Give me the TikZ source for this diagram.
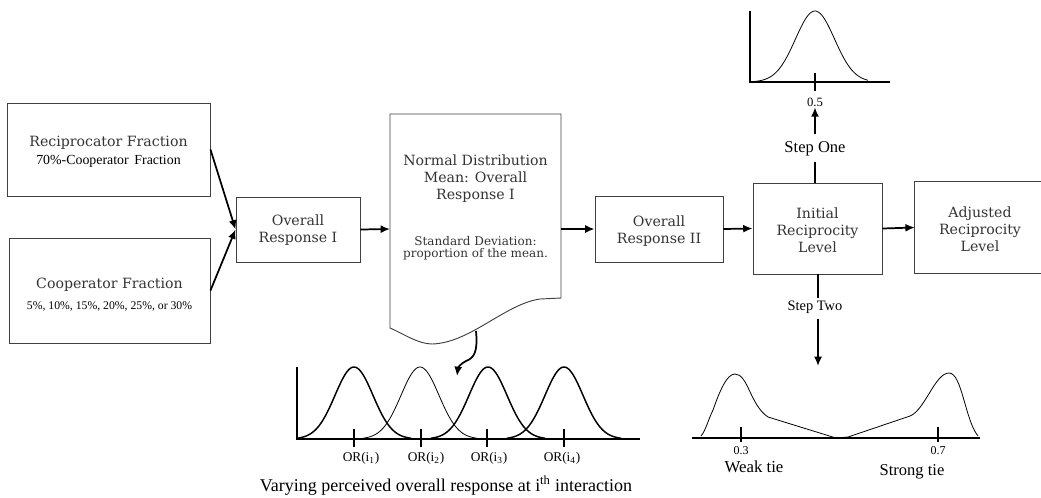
\documentclass[tikz,border=0pt]{standalone}
\usepackage{fontspec}
\newfontfamily\boxfont{DejaVu Serif}
\newfontfamily\labfont{Liberation Serif}
\usetikzlibrary{arrows.meta}
\begin{document}
\begin{tikzpicture}[x=0.75pt,y=-0.75pt,
  box/.style={draw=black!75, line width=0.7pt, inner sep=0pt},
  btxt/.style={font=\boxfont\fontsize{10.6}{12.75}\selectfont, text=black!80, align=center, inner sep=0pt},
  stxt/.style={font=\boxfont\fontsize{9}{9.2}\selectfont, text=black!80, align=center, inner sep=0pt},
  ptxt/.style={font=\labfont\fontsize{#1}{#1}\selectfont, inner sep=0pt},
  arr/.style={line width=1.3pt, -{Latex[length=7pt,width=6pt]}},
  seg/.style={line width=1.3pt},
  thin curve/.style={line width=0.6pt},
  thick curve/.style={line width=1.1pt},
  axis/.style={line width=0.8pt}
]
\useasboundingbox (0,0) rectangle (1041,497);
\clip (0,0) rectangle (1041,497);

% ---- boxes ----
\node[box, minimum width=152.25pt, minimum height=69.75pt] (recip) at (108.5,149.5) {};
\node[btxt] (recipT) at (108.5,143) {Reciprocator Fraction};
\node[ptxt=10.4] (recipS) at (108.5,161) {70\%-Cooperator\, Fraction};

\node[box, minimum width=150.75pt, minimum height=78.75pt] (coop) at (109.5,290.5) {};
\node[btxt] (coopT) at (109.5,285) {Cooperator Fraction};
\node[ptxt=8.8] (coopS) at (109.5,306) {5\%, 10\%, 15\%, 20\%, 25\%, or 30\%};

\node[box, minimum width=93pt, minimum height=48.75pt] (or1) at (298,229.5) {};
\node[btxt] (or1T) at (298,230.5) {Overall\\Response I};

% document shape
\draw[box] (390,114) -- (561,114) -- (561,298) -- (540,299)
  .. controls (505,304) and (470,343) .. (432,344)
  .. controls (418,344) and (402,333) .. (390,328) -- cycle;
\coordinate (docin) at (390,229);
\coordinate (docout) at (561,229);
\coordinate (docbot) at (476,331);
\node[btxt] (docT) at (475.5,179) {Normal Distribution\\Mean: Overall\\Response I};
\node[stxt] (docS) at (475.5,248) {Standard Deviation:\\proportion of the mean.};

\node[box, minimum width=96pt, minimum height=49.5pt] (or2) at (659,229) {};
\node[btxt] (or2T) at (659,231) {Overall\\Response II};

\node[box, minimum width=96.75pt, minimum height=68.25pt] (irl) at (817.5,228.5) {};
\node[btxt] (irlT) at (817.5,230) {Initial\\Reciprocity\\Level};

\node[inner sep=0pt, minimum width=94.5pt, minimum height=68.25pt] (adj) at (978,227.5) {};
\draw[box] (adj.north east) -- (adj.north west) -- (adj.south west) -- (adj.south east);
\node[btxt] (adjT) at (980,229.5) {Adjusted\\Reciprocity\\Level};

% ---- connectors ----
\draw[arr] (recip.east) -- (or1.west);
\draw[arr] (coop.east) -- (or1.west);
\draw[arr] (or1.east) -- (docin);
\draw[arr] (docout) -- (or2.west);
\draw[arr] (or2.east) -- (irl.west);
\draw[arr] (irl.east) -- (adj.west);

% ---- step one ----
\node[ptxt=12.4] (stepone) at (815,149) {Step One};
\node[ptxt=9.5] (half) at (815,102) {0.5};
\draw[seg] (irl.north -| stepone) -- ([yshift=-4pt]stepone.south);
\draw[arr] ([yshift=6pt]stepone.north) -- ([yshift=2pt]half.north |- 0,110);

% top chart
\draw[axis] (750,11) -- (750,82) -- (890,82);
\draw[axis] (815,73) -- (815,91);
\draw[thin curve] plot[domain=755:868, samples=80, smooth] (\x,{82-71*exp(-0.5*((\x-815)/19.5)*((\x-815)/19.5))});

% ---- step two ----
\node[ptxt=10.8] (steptwo) at (815,307) {Step Two};
\coordinate (twotip) at (818,366);
\draw[seg] (irl.south -| 818,0) -- (818,298);
\draw[arr] (818,319) -- (twotip);

% bimodal chart
\draw[axis] (692,438) -- (980,438);
\draw[axis] (741,427) -- (741,442);
\draw[axis] (938,427) -- (938,442);
\draw[thin curve] (701,436) .. controls (706,430) and (708,420) .. (713,410)
  .. controls (720,390) and (727,374) .. (735,374)
  .. controls (748,374) and (750,405) .. (768,417)
  -- (836,438) -- (848,437) -- (910,416)
  .. controls (925,410) and (935,373) .. (949,373)
  .. controls (962,373) and (965,420) .. (978,436);
\node[ptxt=9] (l03) at (741,451) {0.3};
\node[ptxt=12.6] (weak) at (754,467) {Weak tie};
\node[ptxt=9] (l07) at (938,451) {0.7};
\node[ptxt=12.4] (strong) at (912,472) {Strong tie};

% ---- four gaussians ----
\draw[line width=1.3pt, -{Latex[length=7pt,width=6pt]}] (docbot) .. controls (478,352) and (474,358) .. (466,361)
  .. controls (460,364) and (458,368) .. (457,376);
\draw[axis] (297,367) -- (297,439) -- (640,439);
\foreach \c in {354,421,487,564} { \draw[axis] (\c,429) -- (\c,447); }
\draw[thick curve] plot[domain=297:411, samples=80, smooth] (\x,{439-72*exp(-0.5*((\x-354)/19)*((\x-354)/19))});
\draw[thin curve] plot[domain=363:477, samples=80, smooth] (\x,{439-72*exp(-0.5*((\x-420)/19)*((\x-420)/19))});
\draw[thick curve] plot[domain=431:545, samples=80, smooth] (\x,{439-72*exp(-0.5*((\x-488)/19)*((\x-488)/19))});
\draw[thick curve] plot[domain=507:621, samples=80, smooth] (\x,{439-72*exp(-0.5*((\x-564)/19)*((\x-564)/19))});
\node[ptxt=10] (or1l) at (361,458) {OR(i\textsubscript{1})};
\node[ptxt=10] (or2l) at (426,458) {OR(i\textsubscript{2})};
\node[ptxt=10] (or3l) at (489,458) {OR(i\textsubscript{3})};
\node[ptxt=10] (or4l) at (562,458) {OR(i\textsubscript{4})};
\node[ptxt=13.5] (caption) at (446,486) {Varying perceived overall response at i\textsuperscript{th} interaction};
\end{tikzpicture}
\end{document}
